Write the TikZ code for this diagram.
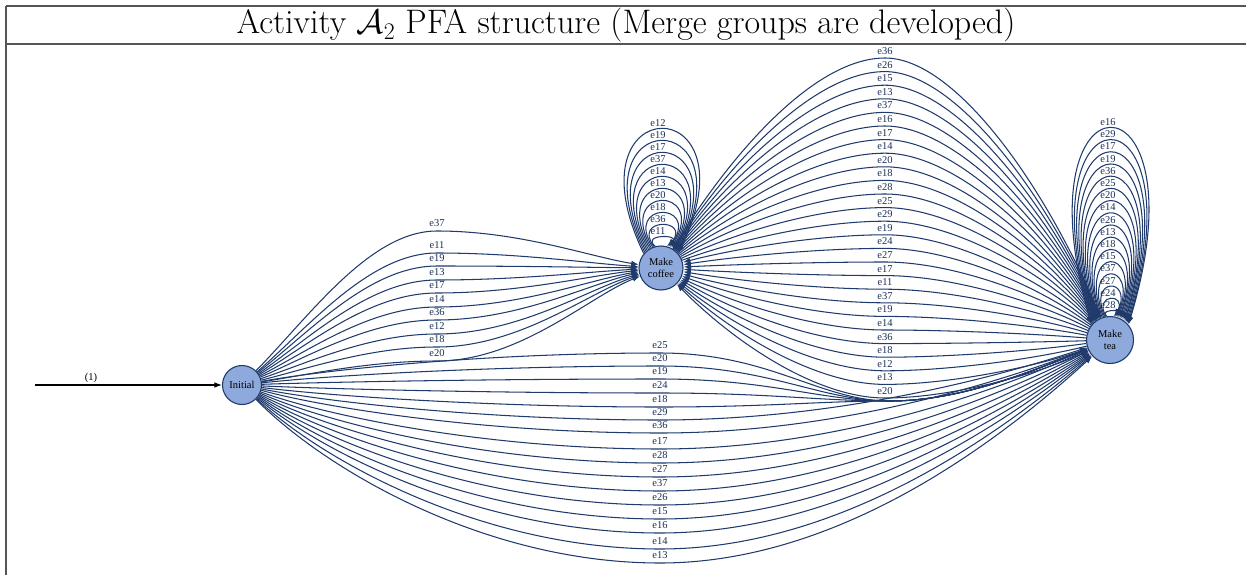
\RequirePackage{fix-cm}
\documentclass[tikz,border=0pt]{standalone}
\usepackage{fontspec}
\newfontfamily\gvfont{Liberation Serif}
\usetikzlibrary{arrows.meta}
\definecolor{navy}{HTML}{1F3A6B}
\definecolor{nodefill}{HTML}{8EA9DB}
\definecolor{framec}{HTML}{555555}
\begin{document}
\begin{tikzpicture}[x=1pt,y=-1pt,
  state/.style={circle,draw=navy,fill=nodefill,line width=1.1pt,inner sep=0pt,
    font=\gvfont\fontsize{10.5}{11.5}\selectfont,align=center},
  edge/.style={draw=navy,line width=1.05pt,-{Latex[length=7.5pt,width=5.5pt]}},
  elab/.style={font=\gvfont\fontsize{10.5}{10.5}\selectfont,text=navy!80!black,inner sep=0pt},
  frame/.style={draw=framec,line width=1.2pt}]
\useasboundingbox (0,0) rectangle (1246,575);
\draw[frame] (6,6) -- (1246,6) (6,44) -- (1246,44) (6,6) -- (6,575);
\node[font=\fontsize{34}{40}\selectfont,inner sep=0pt] (title) at (626,25.5)
  {Activity $\mathcal{A}_2$ PFA structure (Merge groups are developed)};
\node[state,minimum size=39pt] (init) at (242,385) {Initial};
\node[state,minimum size=44pt] (coffee) at (661,268) {Make\\coffee};
\node[state,minimum size=47pt] (tea) at (1110,340) {Make\\tea};
\coordinate (start) at (35,385);
\draw[line width=1.05pt,-{Latex[length=7.5pt,width=5.5pt]}] (start) --
  node[above,pos=0.3,font=\gvfont\fontsize{10.5}{10.5}\selectfont,inner sep=2pt] {(1)} (init);
% Initial -> Make coffee
\foreach \lab/\ly in {e37/223,e11/245,e19/258,e13/272,e17/285,e14/299,e36/312,e12/326,e18/339,e20/353}{
  \pgfmathsetmacro\yl{\ly+8}
  \pgfmathsetmacro\ya{385+0.45*(\yl-385)}
  \pgfmathsetmacro\yb{268+0.3*(\yl-268)}
  \draw[edge] (init) .. controls (310,\ya) and (370,\yl) .. (437,\yl) .. controls (520,\yl) and (590,\yb) .. (coffee);
  \node[elab] at (437,\ly) {\lab};
}
% Initial -> Make tea (upper ones, routed through the low bundle)
\foreach \lab/\ly in {e25/345,e20/358,e19/371,e24/385,e18/399}{
  \pgfmathsetmacro\yl{\ly+8}
  \pgfmathsetmacro\ya{385+0.45*(\yl-385)}
  \draw[edge] (init) .. controls (320,\ya) and (480,\yl) .. (660,\yl) .. controls (770,\yl) and (820,401) .. (890,401) .. controls (960,401) and (1030,372) .. (tea);
  \node[elab] at (660,\ly) {\lab};
}
% Initial -> Make tea (lower ones)
\foreach \lab/\ly in {e29/412,e36/425,e17/441,e28/455,e27/469,e37/483,e26/497,e15/511,e16/525,e14/541,e13/555}{
  \pgfmathsetmacro\yl{\ly+8}
  \pgfmathsetmacro\ya{385+0.45*(\yl-385)}
  \pgfmathsetmacro\yb{340+0.45*(\yl-340)}
  \draw[edge] (init) .. controls (320,\ya) and (480,\yl) .. (660,\yl) .. controls (840,\yl) and (1000,\yb) .. (tea);
  \node[elab] at (660,\ly) {\lab};
}
% Make coffee -> Make tea
\foreach \lab [count=\i] in {e36,e26,e15,e13,e37,e16,e17,e14,e20,e18,e28,e25,e29}{
  \pgfmathsetmacro\ly{51+13.6*(\i-1)}
  \pgfmathsetmacro\yp{\ly+7}
  \pgfmathsetmacro\ya{268+0.55*(\yp-268)}
  \pgfmathsetmacro\yb{340+0.55*(\yp-340)}
  \draw[edge] (coffee) .. controls (731,\ya) and (815,\yp) .. (885,\yp) .. controls (955,\yp) and (1045,\yb) .. (tea);
  \node[elab] at (885,\ly) {\lab};
}
% Make tea -> Make coffee
\foreach \lab [count=\i] in {e19,e24,e27,e17,e11,e37,e19,e14,e36,e18,e12,e13,e20}{
  \pgfmathsetmacro\ly{51+13.6*(\i+12)}
  \pgfmathsetmacro\yp{\ly+7}
  \pgfmathsetmacro\ya{268+0.55*(\yp-268)}
  \pgfmathsetmacro\yb{340+0.55*(\yp-340)}
  \draw[edge] (tea) .. controls (1045,\yb) and (955,\yp) .. (885,\yp) .. controls (815,\yp) and (731,\ya) .. (coffee);
  \node[elab] at (885,\ly) {\lab};
}
% Make coffee self loops
\foreach \lab [count=\i] in {e12,e19,e17,e37,e14,e13,e20,e18,e36,e11}{
  \pgfmathsetmacro\lf{(\i-1)/9}
  \pgfmathsetmacro\ly{123+12*(\i-1)}
  \pgfmathsetmacro\lap{\ly+6}
  \pgfmathsetmacro\lth{50-35*\lf}
  \pgfmathsetmacro\lha{23*sin(\lth)}
  \pgfmathsetmacro\lyo{268-23*cos(\lth)}
  \pgfmathsetmacro\lext{37-28*\lf}
  \pgfmathsetmacro\lW{max((\lext-0.5*\lha)/0.29,5)}
  \pgfmathsetmacro\lyc{(\lap-0.25*\lyo)/0.75}
  \draw[edge] (coffee.{90+\lth}) .. controls ({661-\lW},\lyc) and ({661+\lW},\lyc) .. (coffee.{90-\lth});
  \node[elab] at (658,\ly) {\lab};
}
% Make tea self loops
\foreach \lab [count=\i] in {e16,e29,e17,e19,e36,e25,e20,e14,e26,e13,e18,e15,e37,e27,e24,e28}{
  \pgfmathsetmacro\lf{(\i-1)/15}
  \pgfmathsetmacro\ly{122+12.2*(\i-1)}
  \pgfmathsetmacro\lap{\ly+6}
  \pgfmathsetmacro\lth{50-42*\lf}
  \pgfmathsetmacro\lha{25*sin(\lth)}
  \pgfmathsetmacro\lyo{340-25*cos(\lth)}
  \pgfmathsetmacro\lext{38-33*\lf}
  \pgfmathsetmacro\lW{max((\lext-0.5*\lha)/0.29,5)}
  \pgfmathsetmacro\lyc{(\lap-0.25*\lyo)/0.75}
  \draw[edge] (tea.{90+\lth}) .. controls ({1110-\lW},\lyc) and ({1110+\lW},\lyc) .. (tea.{90-\lth});
  \node[elab] at (1108,\ly) {\lab};
}
\end{tikzpicture}
\end{document}
